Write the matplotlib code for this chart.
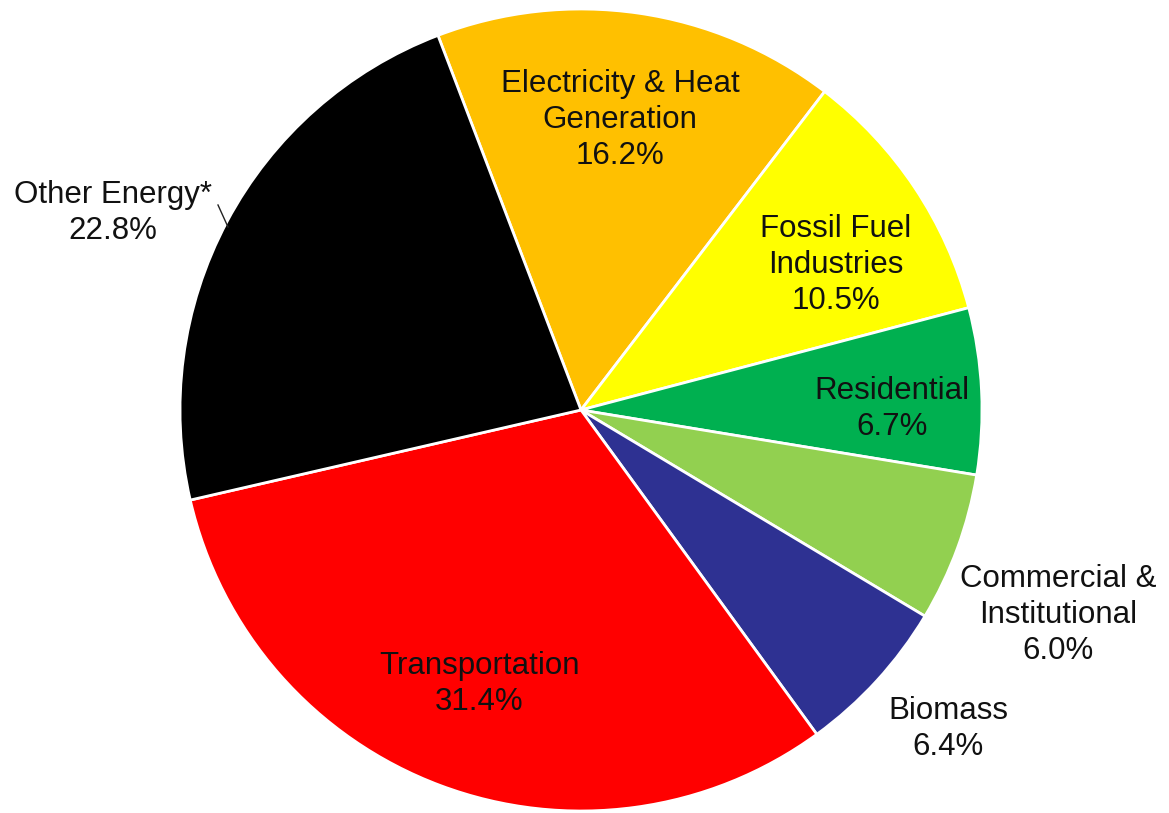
import matplotlib.pyplot as plt
import numpy as np

plt.rcParams['font.family'] = ['Liberation Sans', 'DejaVu Sans']

# sector shares, clockwise from the top
sectors = ["Electricity & Heat\nGeneration", "Fossil Fuel\nIndustries", "Residential",
           "Commercial &\nInstitutional", "Biomass", "Transportation", "Other Energy*"]
shares = [16.2, 10.5, 6.7, 6.0, 6.4, 31.4, 22.8]
colors = ["#FFC000", "#FFFF00", "#00B050", "#92D050", "#2E3192", "#FF0000", "#000000"]

# label anchors in pixel space (x from left, y from top)
label_pos = [(620, 120), (836, 265), (892, 409), (1058, 615),
             (948, 729), (479, 684), (113, 213)]

W, H = 1169, 813
fig = plt.figure(figsize=(W / 100, H / 100), dpi=100)
ax = fig.add_axes([0, 0, 1, 1])
ax.axis('off')

cx, cy, r = 581, H - 410, 401
wedges, _ = ax.pie(shares, colors=colors, startangle=110.9, counterclock=False,
                   center=(cx, cy), radius=r,
                   wedgeprops=dict(edgecolor='white', linewidth=2))
ax.set_xlim(0, W)
ax.set_ylim(0, H)
ax.set_aspect('equal')

for name, val, (x, y) in zip(sectors, shares, label_pos):
    ax.text(x, H - y, f"{name}\n{val:.1f}%", ha='center', va='center',
            fontsize=22.5, color='#111111', linespacing=1.25)

# leader line for the outside label on the left
ax.plot([218, 228], [H - 205, H - 227], color='#222222', lw=1)

fig.savefig("out.png", dpi=100)
